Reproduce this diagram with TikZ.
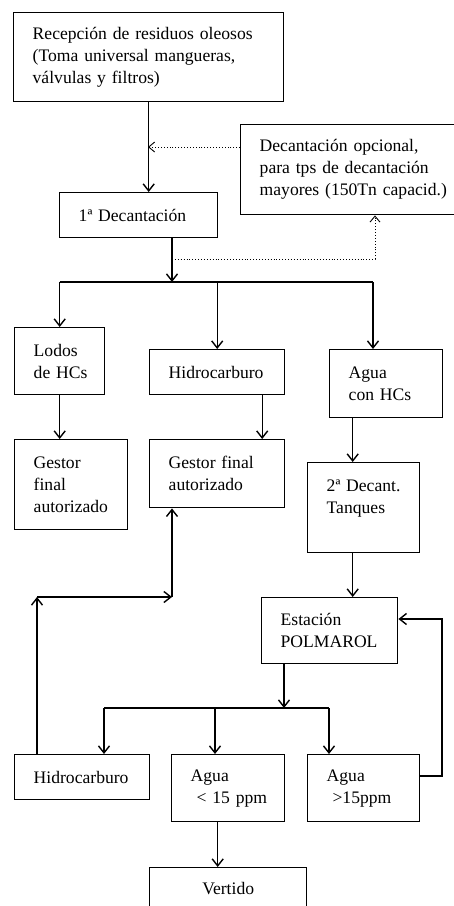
\documentclass[tikz,border=0pt]{standalone}
\usepackage{fontspec}
\setmainfont{Liberation Serif}
\usetikzlibrary{arrows.meta}

\begin{document}
\begin{tikzpicture}
  [x=1pt, y=-1pt,
   every node/.style={font=\fontsize{17.6}{22}\selectfont},
   box/.style={draw, line width=1.4pt, anchor=north west, inner xsep=19pt,
     inner ysep=0pt, align=left},
   arr/.style={line width=1.4pt, -{Straight Barb[length=7pt,width=11pt]}},
   dots/.style={line width=0.9pt, dotted, -{Straight Barb[length=6pt,width=10pt]}}]
  \useasboundingbox (0,0) rectangle (453,906);
  \node[box, text width=232pt, minimum height=89pt] (recep) at (13,12)
    {Recepción de residuos oleosos\\(Toma universal mangueras,\\válvulas y filtros)};
  \node[box, text width=192pt, minimum height=90pt] (opcional) at (240,124)
    {Decantación opcional,\\para tps de decantación\\mayores (150Tn capacid.)};
  \node[box, text width=120pt, minimum height=45pt] (dec1) at (59,192) {1ª Decantación};
  \node[box, text width=52pt, minimum height=67pt] (lodos) at (14,327) {Lodos\\de~HCs};
  \node[box, text width=97pt, minimum height=45pt] (hidro) at (149,349) {Hidrocarburo};
  \node[box, text width=75pt, minimum height=68pt] (agua) at (329,349) {Agua\\con~HCs};
  \node[box, text width=75pt, minimum height=90pt] (gestorA) at (14,439)
    {Gestor\\final\\autorizado};
  \node[box, text width=97pt, minimum height=68pt] (gestorB) at (149,439)
    {Gestor~final\\autorizado};
  \node[box, text width=74pt, minimum height=90pt] (dec2) at (307,462)
    {2ª Decant.\\Tanques\\~};
  \node[box, text width=98pt, minimum height=66pt] (polmarol) at (261,597)
    {Estación\\POLMAROL};
  \node[box, text width=97pt, minimum height=45pt] (hidroB) at (14,754) {Hidrocarburo};
  \node[box, text width=75pt, minimum height=67pt] (aguaBaja) at (171,754)
    {Agua\\~<~15~ppm};
  \node[box, text width=74pt, minimum height=67pt] (aguaAlta) at (307,754)
    {Agua\\~>15ppm};
  \node[box, text width=119pt, minimum height=42pt, align=center] (vertido) at (149,867)
    {Vertido};

  \coordinate (d1) at (148,147);
  \coordinate (d2) at (172,259);
  \coordinate (d3) at (375,259);
  \coordinate (b1) at (172,282);
  \coordinate (b1r) at (373,282);
  \coordinate (b2) at (284,708);
  \coordinate (b2l) at (104,708);
  \coordinate (b2m) at (215,708);
  \coordinate (b2r) at (329,708);
  \coordinate (r1) at (442,776);
  \coordinate (r2) at (442,619);
  \coordinate (h1) at (37,597);
  \coordinate (h2) at (172,597);

  \draw[arr] (recep.south) -- (recep.south |- dec1.north);
  \draw[dots] (opcional.west |- d1) -- (d1);
  \draw[arr] (dec1.south -| b1) -- (b1);
  \draw[dots] (d2) -- (d3) -- (d3 |- opcional.south);
  \draw[line width=1.4pt] (b1 -| lodos.north) -- (b1r);
  \draw[arr] (b1 -| lodos.north) -- (lodos.north);
  \draw[arr] (b1 -| hidro.north) -- (hidro.north);
  \draw[arr] (b1r) -- (b1r |- agua.north);
  \draw[arr] (lodos.south) -- (lodos.south |- gestorA.north);
  \draw[arr] ([xshift=45pt]hidro.south) -- ([xshift=45pt]gestorB.north);
  \draw[arr] ([xshift=-33.5pt]agua.south) -- ([xshift=-11pt]dec2.north);
  \draw[arr] ([xshift=-11pt]dec2.south) -- ([xshift=23pt]polmarol.north);
  \draw[arr] (polmarol.south -| b2) -- (b2);
  \draw[line width=1.4pt] (b2l) -- (b2r);
  \draw[arr] (b2l) -- (b2l |- hidroB.north);
  \draw[arr] (b2m) -- (b2m |- aguaBaja.north);
  \draw[arr] (b2r) -- (b2r |- aguaAlta.north);
  \draw[arr] (r1 -| aguaAlta.east) -- (r1) -- (r2) -- (r2 -| polmarol.east);
  \draw[arr] ([xshift=-10.5pt]aguaBaja.south) -- ([xshift=-10.5pt]vertido.north);
  \draw[arr] (h1 |- hidroB.north) -- (h1);
  \draw[arr] (h1) -- (h2);
  \draw[arr] (h2) -- (h2 |- gestorB.south);
\end{tikzpicture}
\end{document}
